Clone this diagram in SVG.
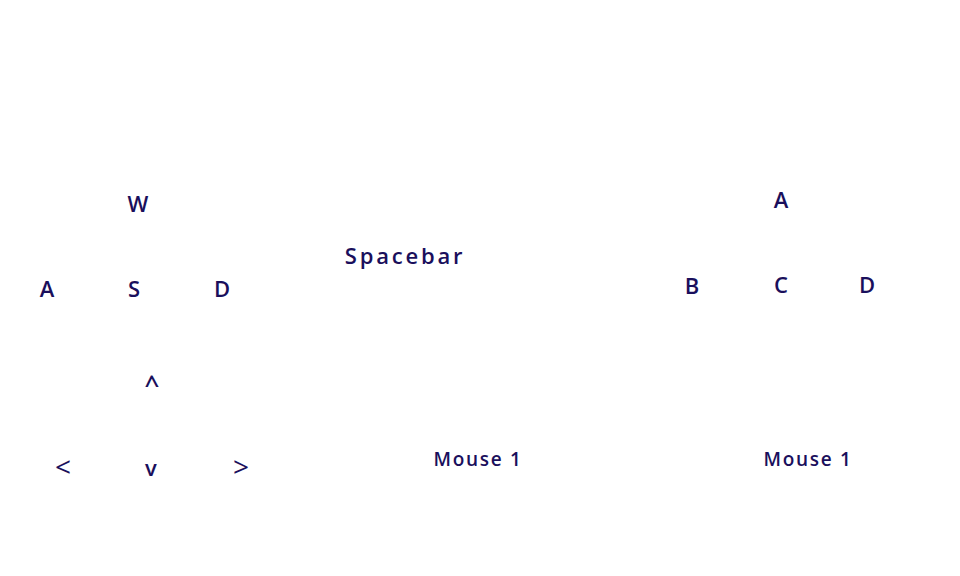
<svg xmlns="http://www.w3.org/2000/svg" width="960" height="576" viewBox="0 0 960 576">
<style>
text{font-family:"Open Sans","DejaVu Sans",sans-serif;fill:#1a0f5c;text-anchor:middle;font-weight:600}
.k{font-size:22px}
.a{font-size:22px;font-weight:600}
.lr{font-size:28px;font-weight:400}
.m{font-size:19px;letter-spacing:1.7px}
</style>
<rect width="960" height="576" fill="#fff"/>
<g id="wasd">
<g id="key-w"><text class="k" x="138" y="212">W</text></g>
<g id="key-a"><text class="k" x="47" y="297">A</text></g>
<g id="key-s"><text class="k" x="134" y="297">S</text></g>
<g id="key-d"><text class="k" x="222" y="297">D</text></g>
</g>
<g id="space"><text class="k" x="405" y="264" style="letter-spacing:2.8px">Spacebar</text></g>
<g id="arrows">
<g id="key-up"><text class="a" x="152" y="394" style="font-size:26px">^</text></g>
<g id="key-left"><text class="lr" x="63" y="477">&lt;</text></g>
<g id="key-down"><text class="a" x="151" y="476">v</text></g>
<g id="key-right"><text class="lr" x="241" y="477">&gt;</text></g>
</g>
<g id="mouse1"><text class="m" x="478" y="466">Mouse 1</text></g>
<g id="abcd">
<g id="key-a2"><text class="k" x="781" y="208">A</text></g>
<g id="key-b"><text class="k" x="692" y="294">B</text></g>
<g id="key-c"><text class="k" x="781" y="293">C</text></g>
<g id="key-d2"><text class="k" x="867" y="293">D</text></g>
</g>
<g id="mouse2"><text class="m" x="808" y="466">Mouse 1</text></g>
<g id="connectors"></g>
</svg>
